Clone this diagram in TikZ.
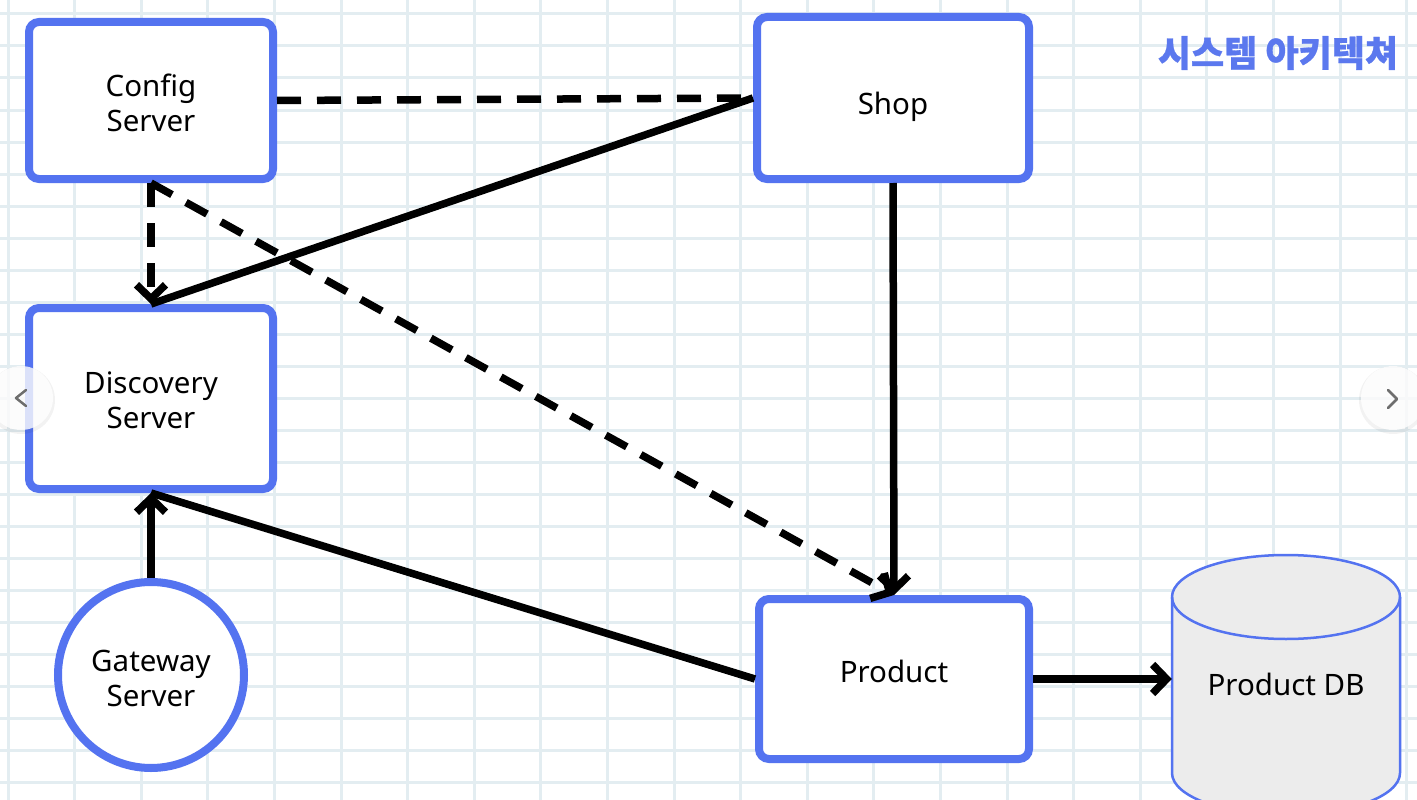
\documentclass[tikz,border=0pt]{standalone}
\usepackage{fontspec}
\setmainfont{Noto Sans}
\newfontfamily\cjkfont{Noto Sans CJK KR}
\usetikzlibrary{arrows.meta}
\definecolor{bblue}{HTML}{5473F0}
\definecolor{titleblue}{HTML}{5B78EE}
\definecolor{gridc}{HTML}{E3EDF1}
\definecolor{dbfill}{HTML}{ECECEC}
\definecolor{chev}{HTML}{6E6E6E}
\begin{document}
\begin{tikzpicture}[x=1pt,y=-1pt,
  >={Straight Barb[length=14pt,width=29pt]},
  lbl/.style={font=\fontsize{29.5}{35}\selectfont, align=center},
  box/.style={lbl, draw=bblue, fill=white, line width=8pt, rounded corners=10pt, inner sep=0pt},
  roundnode/.style={lbl, circle, draw=bblue, fill=white, line width=8pt, inner sep=0pt, minimum size=186pt},
  conn/.style={draw=black, line width=7.5pt},
  dconn/.style={conn, dash pattern=on 24pt off 16pt},
  gridline/.style={draw=gridc, line width=3pt},
  navbtn/.style={fill=white, fill opacity=0.8},
  navchev/.style={draw=chev, line width=2.5pt, line cap=round, line join=round}
]
\clip (0,0) rectangle (1417,800);
\useasboundingbox (0,0) rectangle (1417,800);
\fill[white] (0,0) rectangle (1417,800);
% grid
\foreach \k in {0,...,21} \draw[gridline] ({8+66.6*\k},0) -- ({8+66.6*\k},800);
\foreach \k in {0,...,24} \draw[gridline] (0,{14+32*\k}) -- (1417,{14+32*\k});

% title
\node[text=titleblue, font=\cjkfont\bfseries\addfontfeature{FakeBold=0.8}\fontsize{36}{40}\selectfont, inner sep=0pt] (title) at (1278,53) {시스템 아키텍쳐};

% nodes
\node[box, minimum width=244pt, minimum height=157pt, text height=62.5pt, text depth=0pt] (config) at (151,100.5) {Config\\Server};
\node[box, minimum width=272pt, minimum height=162pt, text height=32pt, text depth=0pt] (shop) at (893,98) {Shop};
\node[box, minimum width=244pt, minimum height=181pt, text height=60.5pt, text depth=0pt] (discovery) at (151,398.5) {Discovery\\Server};
\node[box, minimum width=270pt, minimum height=160pt, text height=21pt, text depth=15pt] (product) at (894,679) {Product};
\node[roundnode, text height=62pt, text depth=0pt] (gateway) at (151,675) {Gateway\\Server};

% database cylinder
\filldraw[fill=dbfill, draw=bblue, line width=2.5pt]
  (1172,597) -- (1172,773) arc[start angle=180, end angle=0, x radius=114, y radius=42]
  -- (1400,597) arc[start angle=0, end angle=-180, x radius=114, y radius=42] -- cycle;
\draw[bblue, line width=2.5pt] (1172,597) arc[start angle=180, end angle=0, x radius=114, y radius=42];
\node[lbl, minimum width=228pt, minimum height=260pt, inner sep=0pt] (db) at (1286,684) {Product DB};

% connectors
\draw[dconn] (config.east) -- (shop.west);
\draw[conn] (shop.west) -- (discovery.north);
\draw[dconn, ->] (config.south) -- (discovery.north);
\draw[dconn, ->] (config.south) -- (product.north);
\draw[conn, ->] (shop.south) -- (product.north);
\draw[conn, ->] (gateway.north) -- (discovery.south);
\draw[conn] (product.west) -- (discovery.south);
\draw[conn, ->] (product.east) -- (product.east -| db.west);

% carousel buttons
\fill[black, opacity=0.05] (21,400) circle[radius=34];
\fill[navbtn] (21,398) circle[radius=32];
\draw[navchev] (26,390) -- (16,398) -- (26,406);
\fill[black, opacity=0.05] (1393,400) circle[radius=34];
\fill[navbtn] (1393,398) circle[radius=32];
\draw[navchev] (1388,390) -- (1397,399) -- (1388,408);
\end{tikzpicture}
\end{document}
